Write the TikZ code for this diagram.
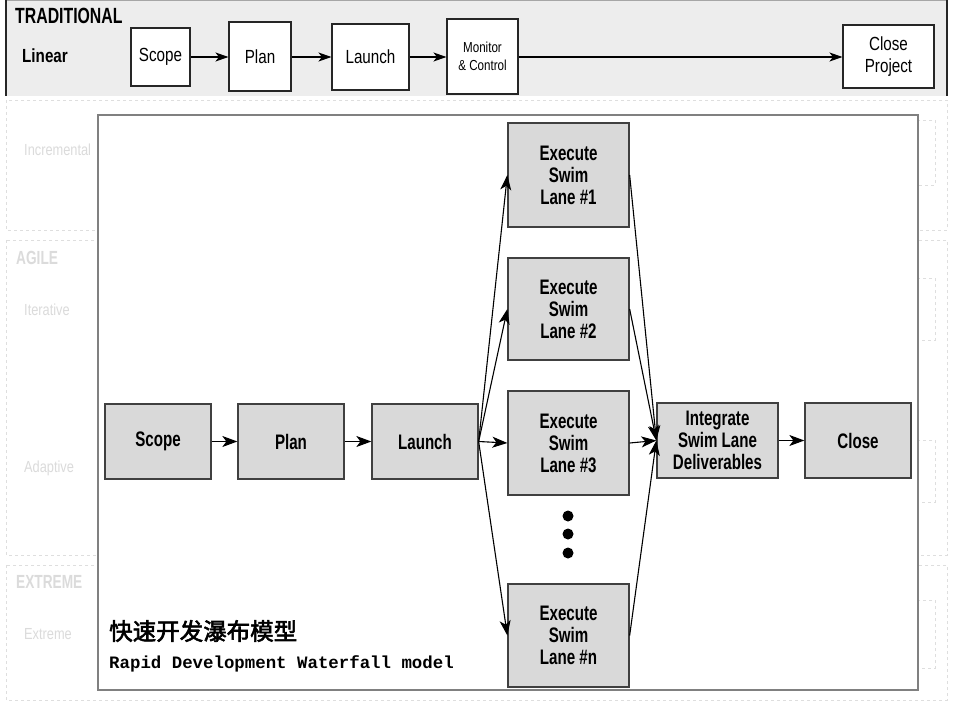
\documentclass[tikz,border=0pt]{standalone}
\usepackage{fontspec}
\setmainfont{Liberation Sans}
\newfontfamily\condfont[FakeStretch=0.8]{Liberation Sans}
\newfontfamily\tightfont[FakeStretch=0.72]{Liberation Sans}
\newfontfamily\cjkfont[FakeBold=2.5]{Noto Sans CJK SC}
\newfontfamily\codefont{Liberation Mono}
\usepackage{tikz}
\usetikzlibrary{arrows.meta,calc}

\begin{document}
\begin{tikzpicture}[x=1pt,y=-1pt,
  box/.style={draw=black!75,line width=1.3pt,fill=black!15,align=center,inner sep=0,
    font=\tightfont\bfseries\fontsize{21}{22}\selectfont},
  tbox/.style={draw=black!85,line width=1.1pt,fill=white,align=center,inner sep=0,
    font=\condfont\fontsize{19}{22}\selectfont},
  ghost/.style={draw=black!13,dashed,line width=0.6pt},
  glabel/.style={text=black!14,anchor=west,inner sep=0,font=\condfont\fontsize{16}{18}\selectfont},
  arr/.style={-{Stealth[length=15pt,width=11pt,inset=4pt]},line width=1.1pt},
  tarr/.style={-{Stealth[length=13pt,width=9pt,inset=3.5pt]},line width=1.1pt}]
\useasboundingbox[fill=white] (0,0) rectangle (960,725);

% faded panels behind
\draw[ghost] (6,100) rectangle (947,230);
\draw[ghost] (6,240) rectangle (947,555);
\draw[ghost] (6,565) rectangle (947,700);
\draw[ghost] (918,120) rectangle (935,185);
\draw[ghost] (918,278) rectangle (935,340);
\draw[ghost] (918,440) rectangle (935,502);
\draw[ghost] (918,600) rectangle (935,668);
\node[glabel] (g-incr) at (24,150) {Incremental};
\node[glabel,font=\tightfont\bfseries\fontsize{19}{18}\selectfont] (g-agile) at (16,258) {AGILE};
\node[glabel] (g-iter) at (24,310) {Iterative};
\node[glabel] (g-adapt) at (24,468) {Adaptive};
\node[glabel,font=\tightfont\bfseries\fontsize{19}{18}\selectfont] (g-xtr) at (16,582) {EXTREME};
\node[glabel] (g-xtr2) at (24,634) {Extreme};

% traditional strip
\fill[black!7] (6,0) rectangle (947,96);
\draw[black!35,line width=0.8pt] (6,0.5) -- (947,0.5);
\draw[black!85,line width=1.3pt] (6,0) -- (6,96) (947,0) -- (947,96);
\node[anchor=west,inner sep=0,font=\tightfont\bfseries\fontsize{22}{22}\selectfont] (trad) at (15,16) {TRADITIONAL};
\node[anchor=west,inner sep=0,font=\condfont\bfseries\fontsize{19}{19}\selectfont] (linear) at (22,56) {Linear};
\node[tbox,minimum width=59pt,minimum height=58pt] (t-scope) at (160.5,57) {Scope};
\node[tbox,minimum width=62pt,minimum height=69pt] (t-plan) at (260,56.5) {Plan};
\node[tbox,minimum width=77pt,minimum height=66pt] (t-launch) at (370.5,57) {Launch};
\node[tbox,minimum width=71pt,minimum height=75pt,font=\condfont\fontsize{14.5}{18}\selectfont] (t-mon) at (482.5,56.5) {Monitor\\\& Control};
\node[tbox,minimum width=91pt,minimum height=63pt] (t-close) at (888.5,56.5) {Close\\Project};
\draw[tarr] (t-scope.east) -- (t-plan.west|-t-scope.east);
\draw[tarr] (t-plan.east|-t-scope.east) -- (t-launch.west|-t-scope.east);
\draw[tarr] (t-launch.east|-t-scope.east) -- (t-mon.west|-t-scope.east);
\draw[tarr] (t-mon.east|-t-scope.east) -- (t-close.west|-t-scope.east);

% rapid development waterfall
\draw[black!50,line width=1.3pt,fill=white] (98,115) rectangle (918,690);
\node[box,minimum width=106pt,minimum height=75pt] (scope) at (158,441.5) {Scope};
\node[box,minimum width=106pt,minimum height=75pt] (plan) at (291,441.5) {Plan};
\node[box,minimum width=106pt,minimum height=75pt] (launch) at (425,441.5) {Launch};
\node[box,minimum width=121pt,minimum height=104pt] (lane-1) at (568.5,175) {Execute\\Swim\\Lane \#1};
\node[box,minimum width=121pt,minimum height=102pt] (lane-2) at (568.5,309) {Execute\\Swim\\Lane \#2};
\node[box,minimum width=121pt,minimum height=104pt] (lane-3) at (568.5,443) {Execute\\Swim\\Lane \#3};
\node[box,minimum width=121pt,minimum height=103pt] (lane-n) at (568.5,635.5) {Execute\\Swim\\Lane \#n};
\node[box,minimum width=121pt,minimum height=75pt] (integ) at (717.5,440.5) {Integrate\\Swim Lane\\Deliverables};
\node[box,minimum width=106pt,minimum height=75pt] (close) at (858,440.5) {Close};
\foreach \i/\y in {1/516,2/534,3/553}
  \node[circle,fill=black,inner sep=0,minimum size=11pt] (dot-\i) at (568,\y) {};

\draw[arr] (scope) -- (plan);
\draw[arr] (plan) -- (launch);
\foreach \l in {1,2,3,n} {
  \draw[arr] (launch.east) -- (lane-\l.west);
  \draw[arr] (lane-\l.east) -- (integ.west);
}
\draw[arr] (integ) -- (close);

\node[anchor=west,inner sep=0,font=\cjkfont\fontsize{23.5}{23.5}\selectfont] (title-cn) at (109,631) {快速开发瀑布模型};
\node[anchor=west,inner sep=0,font=\codefont\bfseries\fontsize{17.4}{20}\selectfont] (title-en) at (109,664) {Rapid Development Waterfall model};
\end{tikzpicture}
\end{document}
